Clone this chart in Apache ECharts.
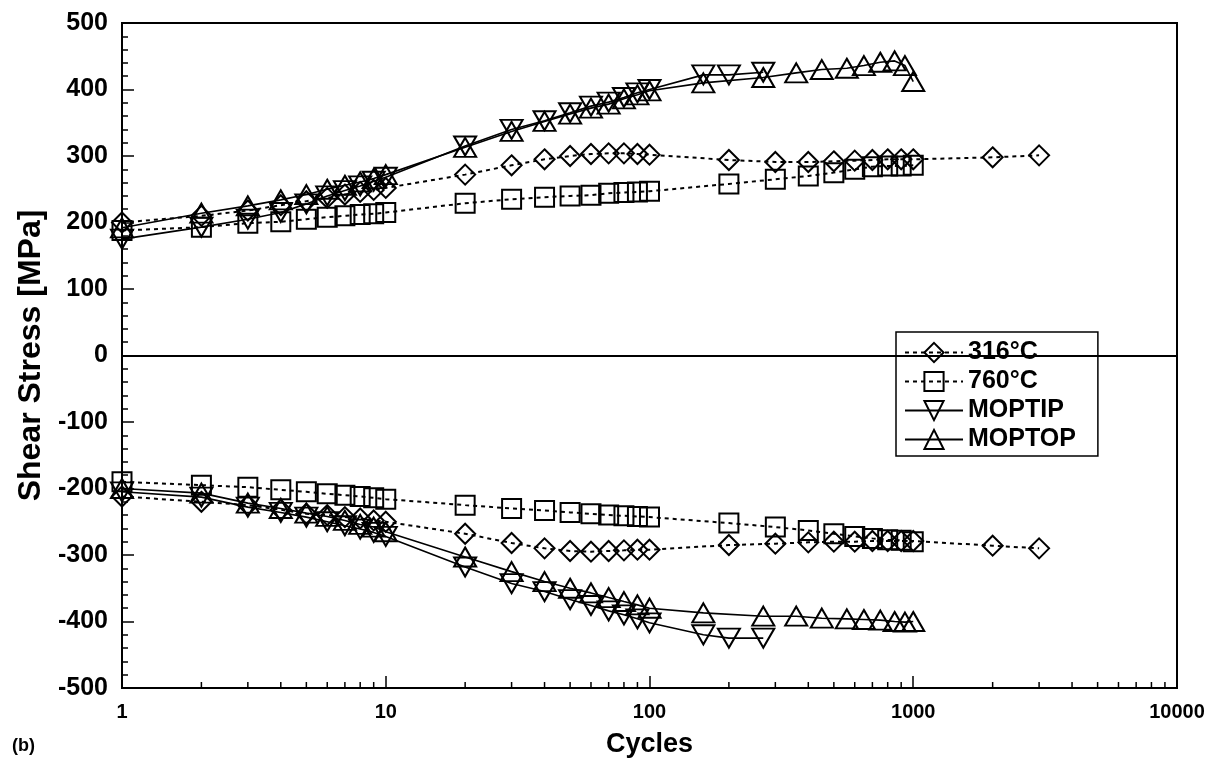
<!DOCTYPE html>
<html><head><meta charset="utf-8">
<script src="https://cdn.jsdelivr.net/npm/echarts@6/dist/echarts.min.js"></script>
<style>html,body{margin:0;padding:0;background:#fff}#c{width:1218px;height:773px}</style>
</head><body><div id="c"></div>
<script>
// ---- data ----
const cyc316 = [1,2,3,4,5,6,7,8,9,10,20,30,40,50,60,70,80,90,100,200,300,400,500,600,700,800,900,1000,2000,3000];
const s316Upper = [200,210,218,226,232,237,242,246,249,252,272,286,295,300,303,304,304,303,302,294,291,291,292,293,294,295,295,295,298,301];
const s316Lower = [-212,-220,-225,-232,-238,-240,-243,-245,-248,-250,-268,-282,-290,-294,-295,-294,-293,-292,-292,-285,-283,-281,-280,-280,-279,-279,-279,-279,-286,-290];

const cyc760 = [1,2,3,4,5,6,7,8,9,10,20,30,40,50,60,70,80,90,100,200,300,400,500,600,700,800,900,1000];
const s760Upper = [188,193,199,201,205,208,210,212,213,215,229,235,238,240,241,244,245,246,247,258,265,270,275,280,284,285,285,286];
const s760Lower = [-190,-195,-198,-202,-205,-208,-210,-212,-214,-216,-225,-230,-233,-236,-238,-240,-241,-242,-243,-252,-258,-263,-268,-272,-275,-277,-278,-280];

const cycTip = [1,2,3,4,5,6,7,8,9,10,20,30,40,50,60,70,80,90,100,160,200,270];
const tipUpper = [175,193,205,215,228,240,248,255,262,268,315,340,353,365,375,381,388,395,400,422,422,426];
const tipLower = [-205,-213,-228,-236,-243,-250,-256,-261,-266,-272,-318,-343,-355,-367,-376,-384,-390,-396,-402,-420,-425,-425];

const cycTop = [1,2,3,4,5,6,7,8,9,10,20,30,40,50,60,70,80,90,100,160,270,360,450,560,650,750,850,930,1000];
const topUpper = [192,214,225,234,242,250,256,261,266,272,313,337,352,363,372,378,386,392,398,410,418,425,430,432,436,441,443,436,412];
const topLower = [-200,-207,-222,-230,-237,-242,-248,-254,-258,-265,-303,-325,-340,-350,-357,-364,-370,-375,-380,-387,-392,-392,-395,-396,-397,-398,-400,-401,-400];

const seriesNames = ['316°C','760°C','MOPTIP','MOPTOP'];
const xMajorLabels = [1,10,100,1000,10000];
const xMinorTicks = [2,3,4,5,6,7,8,9,20,30,40,50,60,70,80,90,200,300,400,500,600,700,800,900,2000,3000,4000,5000,6000,7000,8000,9000];

// ---- chart ----
const FONT = "'Liberation Sans', Arial, sans-serif";
const chart = echarts.init(document.getElementById('c'), null, {renderer:'canvas'});

function mk(name, xs, ys, symbol, size, rotate, dashed) {
  return {
    type:'line', name: name,
    data: xs.map((x,i)=>[x, ys[i]]),
    symbol: symbol, symbolSize: size, symbolRotate: rotate,
    showAllSymbol: true, smooth: false,
    itemStyle: {color:'rgba(255,255,255,0)', borderColor:'#000', borderWidth:2},
    lineStyle: {color:'#000', width: dashed ? 2 : 1.6, type: dashed ? [4,4] : 'solid'},
    emphasis: {disabled:true},
    z: 5
  };
}

const series = [
  mk(seriesNames[0], cyc316, s316Upper, 'diamond', [20,20], 0, true),
  mk(seriesNames[0], cyc316, s316Lower, 'diamond', [20,20], 0, true),
  mk(seriesNames[1], cyc760, s760Upper, 'rect', [19,19], 0, true),
  mk(seriesNames[1], cyc760, s760Lower, 'rect', [19,19], 0, true),
  mk(seriesNames[2], cycTip, tipUpper, 'triangle', [22,19], 180, false),
  mk(seriesNames[2], cycTip, tipLower, 'triangle', [22,19], 180, false),
  mk(seriesNames[3], cycTop, topUpper, 'triangle', [22,19], 0, false),
  mk(seriesNames[3], cycTop, topLower, 'triangle', [22,19], 0, false)
];
series[0].markLine = {
  silent:true, symbol:'none', label:{show:false},
  lineStyle:{color:'#000', type:'solid', width:2},
  data:[{yAxis:0}]
};
series.push({
  type:'custom', name:'minorTicks', silent:true, z:3,
  data: xMinorTicks.map(v=>[v,-500]),
  renderItem: function(params, api){
    const p = api.coord([api.value(0), api.value(1)]);
    return {type:'line', shape:{x1:p[0], y1:p[1], x2:p[0], y2:p[1]-6},
            style:{stroke:'#000', lineWidth:1.5}};
  }
});

chart.setOption({
  animation:false,
  backgroundColor:'#fff',
  grid:{left:122, right:41, top:23, bottom:85, show:true, borderColor:'#000', borderWidth:2, backgroundColor:'transparent'},
  xAxis:{
    type:'log', logBase:10, min:xMajorLabels[0], max:xMajorLabels[xMajorLabels.length-1],
    axisLine:{onZero:false, lineStyle:{color:'#000', width:2}},
    axisTick:{inside:true, length:12, lineStyle:{color:'#000', width:1.5}},
    axisLabel:{color:'#000', fontSize:20, fontWeight:'bold', fontFamily:FONT, margin:14, formatter: v => String(Math.round(v))},
    splitLine:{show:false},
    name:'Cycles', nameLocation:'middle', nameGap:43,
    nameTextStyle:{color:'#000', fontSize:27, fontWeight:'bold', fontFamily:FONT}
  },
  yAxis:{
    type:'value', min:-500, max:500, interval:100,
    axisLine:{show:true, onZero:false, lineStyle:{color:'#000', width:2}},
    axisTick:{inside:true, length:12, lineStyle:{color:'#000', width:1.5}},
    minorTick:{show:true, splitNumber:5, length:6, lineStyle:{color:'#000', width:1.5}},
    axisLabel:{color:'#000', fontSize:25, fontWeight:'bold', fontFamily:FONT, margin:14},
    splitLine:{show:false},
    name:'Shear Stress [MPa]', nameLocation:'middle', nameGap:73, nameRotate:90,
    nameTextStyle:{color:'#000', fontSize:32, fontWeight:'bold', fontFamily:FONT}
  },
  legend:{
    data: seriesNames, orient:'vertical', left:896, top:332,
    itemWidth:58, itemHeight:24, itemGap:4,
    padding:[8,22,4,8], backgroundColor:'#fff', borderColor:'#000', borderWidth:1.5,
    selectedMode:false,
    textStyle:{color:'#000', fontSize:25, lineHeight:24, fontWeight:'bold', fontFamily:FONT}
  },
  graphic:[{type:'text', left:12, top:737, style:{text:'(b)', fill:'#000', font:"bold 18px " + FONT}}],
  series: series
});
</script></body></html>
